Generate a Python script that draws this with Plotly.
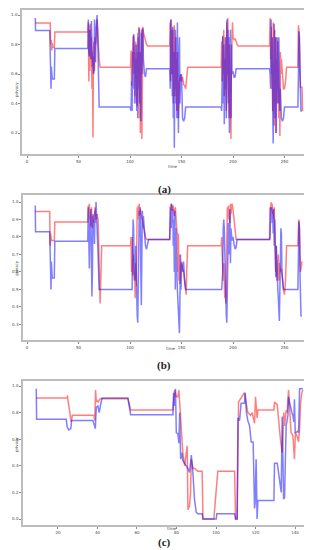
import plotly.graph_objects as go

# ---- data: (time, privacy) pairs ----
a_red = [(8,0.946),(22.5,0.946),(23,0.80),(23.5,0.83),(24,0.76),(24.5,0.81),(25,0.78),(26.5,0.78),(27,0.885),(59,0.885),(59.5,0.95),(60,0.55),(60.5,0.93),(61,0.62),(61.5,0.94),(62,0.72),(62.5,0.85),(63,0.5),(63.5,0.75),(64,0.17),(64.5,0.75),(65,0.82),(65.5,0.62),(66,0.85),(66.5,0.8),(67,0.82),(67.5,0.9),(68,0.97),(68.5,0.9),(69,0.8),(70,0.7),(71,0.646),
(100.5,0.646),(101,0.76),(101.5,0.52),(102,0.62),(103,0.86),(103.5,0.8),(104,0.6),(104.5,0.75),(105,0.45),(105.5,0.82),(106,0.4),(106.5,0.7),(107,0.38),(107.5,0.88),(108,0.55),(108.5,0.92),(109,0.3),(109.5,0.75),(110,0.2),(110.5,0.6),(111,0.9),(111.5,0.16),(112,0.7),(112.5,0.92),(113,0.88),(114,0.85),(115,0.82),(116,0.8),(117,0.79),
(138.5,0.79),(139,0.95),(139.5,0.55),(140,0.97),(140.5,0.85),(141,0.6),(141.5,0.9),(142,0.4),(142.5,0.8),(143,0.93),(143.5,0.45),(144,0.85),(144.5,0.5),(145,0.7),(145.5,0.35),(146,0.75),(146.5,0.5),(147,0.3),(148,0.55),(149,0.6),(150,0.55),(151,0.58),(152,0.53),(153,0.52),(154,0.5),(155,0.6),(156,0.646),
(188.5,0.646),(189,0.82),(189.5,0.55),(190,0.85),(190.5,0.6),(191,0.9),(191.5,0.45),(192,0.85),(192.5,0.5),(193,0.7),(193.5,0.35),(194,0.95),(194.5,0.6),(195,0.98),(195.5,0.5),(196,0.3),(196.5,0.8),(197,0.45),(197.5,0.2),(198,0.16),(198.5,0.7),(199,0.92),(199.5,0.95),(200,0.85),(201,0.83),(202,0.84),(203,0.81),(204,0.8),(205,0.79),
(235.5,0.79),(236,0.98),(236.5,0.7),(237,0.92),(237.5,0.5),(238,0.85),(238.5,0.35),(239,0.95),(239.5,0.6),(240,0.25),(240.5,0.9),(241,0.4),(241.5,0.2),(242,0.85),(242.5,0.55),(243,0.4),(243.5,0.82),(244,0.6),(244.5,0.3),(245,0.5),(245.5,0.18),(246,0.75),(246.5,0.6),(247,0.7),(248,0.55),(249,0.5),(250,0.5),(251,0.55),(252,0.646),
(263,0.646),(263.5,0.93),(264,0.9),(264.5,0.8),(265,0.6),(265.5,0.51),(267,0.51),(267.5,0.35)]

a_blue = [(8,0.98),(8.3,0.895),(22,0.895),(23,0.6),(23.3,0.5),(23.6,0.65),(24,0.6),(24.5,0.567),(26.5,0.567),(27,0.773),(59,0.773),(59.5,0.97),(60,0.75),(60.5,0.72),(61,0.9),(61.5,0.75),(62,0.7),(62.5,0.96),(63,0.8),(63.5,0.65),(64,0.72),(64.5,0.6),(65,0.62),(65.5,0.97),(66,0.7),(66.5,0.68),(67,0.9),(67.5,0.99),(68,1.0),(68.5,0.9),(69,0.7),(70,0.376),
(100,0.376),(100.5,0.35),(101,0.35),(101.5,0.55),(102,0.35),(102.5,0.75),(103,0.5),(103.5,0.87),(104,0.85),(104.5,0.4),(105,0.7),(105.5,0.55),(106,0.8),(106.5,0.35),(107,0.75),(107.5,0.3),(108,0.85),(108.5,0.5),(109,0.91),(109.5,0.4),(110,0.75),(110.5,0.28),(111,0.88),(111.5,0.6),(112,0.91),(112.5,0.9),(113,0.7),(113.5,0.6),(114,0.6),(115,0.58),(115.5,0.6),(116,0.636),
(138.5,0.636),(139,0.5),(139.5,0.97),(140,0.6),(140.5,0.9),(141,0.45),(141.5,0.92),(142,0.3),(142.5,0.75),(143,0.1),(143.5,0.6),(144,0.9),(144.5,0.4),(145,0.85),(145.5,0.3),(146,0.95),(146.5,0.5),(147,0.2),(147.5,0.7),(148,0.85),(148.5,0.4),(149,0.55),(150,0.6),(150.5,0.35),(151,0.3),(152,0.28),(153,0.3),(154,0.376),
(188.5,0.376),(189,0.35),(189.5,0.6),(190,0.86),(190.5,0.4),(191,0.8),(191.5,0.26),(192,0.7),(192.5,0.5),(193,0.85),(193.5,0.3),(194,0.97),(194.5,0.6),(195,0.9),(195.5,0.4),(196,0.85),(196.5,0.2),(197,0.6),(197.5,0.9),(198,0.3),(198.5,0.8),(199,0.6),(200,0.62),(200.5,0.6),(201,0.578),(202,0.58),(203,0.636),
(235.5,0.636),(236,0.6),(236.5,0.5),(237,0.97),(237.5,0.6),(238,0.85),(238.5,0.4),(239,0.13),(239.5,0.5),(240,0.94),(240.5,0.6),(241,0.3),(241.5,0.85),(242,0.2),(242.5,0.7),(243,0.5),(243.5,0.85),(244,0.4),(244.5,0.85),(245,0.6),(245.5,0.35),(246,0.5),(247,0.3),(248,0.28),(249,0.3),(250,0.376),
(263,0.376),(263.5,0.6),(264,0.89),(264.5,0.85),(265,0.6),(265.5,0.45),(266,0.35),(267,0.35)]

b_red = [(8,0.945),(22,0.945),(22.5,0.75),(23,0.82),(23.5,0.79),(24,0.78),(26.5,0.78),(27,0.886),(59,0.886),(59.5,0.98),(60,0.96),(60.5,0.99),(61,0.9),(61.5,0.92),(62,0.86),(62.5,0.97),(63,0.9),(63.5,0.85),(64,0.92),(64.5,0.88),(65,0.92),(65.5,0.93),(66,0.97),(66.5,0.95),(67,0.9),(68,0.93),(69,0.9),(71,0.42),(72.5,0.75),
(100.5,0.75),(101,0.8),(101.5,0.6),(102,0.8),(102.5,0.58),(103,0.7),(104,0.55),(104.5,0.6),(105,0.45),(105.5,0.65),(106,0.52),(106.5,0.9),(107,0.97),(107.5,0.9),(108,0.98),(108.5,0.92),(109,0.99),(109.5,0.93),(110,0.96),(111,0.92),(112,0.9),(113,0.86),(114,0.82),(115,0.8),(116,0.785),
(138.5,0.785),(139,0.97),(140,0.99),(141,0.95),(142,0.98),(143,0.92),(144,0.97),(145,0.88),(146,0.8),(146.5,0.6),(147,0.82),(147.5,0.55),(148,0.7),(148.5,0.53),(149,0.6),(150,0.66),(151,0.62),(152,0.6),(153,0.55),(154,0.5),(154.5,0.47),(155,0.6),(156,0.75),
(188.5,0.75),(189,0.8),(189.5,0.7),(190,0.6),(190.5,0.55),(191,0.65),(191.5,0.5),(192,0.45),(192.5,0.55),(193,0.42),(193.5,0.6),(194,0.9),(194.5,0.97),(195,0.92),(195.5,0.98),(196,0.9),(196.5,0.95),(197,0.88),(197.5,0.99),(198,0.93),(199,0.99),(200,0.96),(201,0.9),(202,0.82),(203,0.785),
(235.5,0.785),(236,0.97),(236.5,0.95),(237,1.0),(237.5,0.97),(238,0.99),(238.5,0.93),(239,0.96),(239.5,0.9),(240,0.97),(240.5,0.85),(241,0.8),(241.5,0.6),(242,0.75),(242.5,0.55),(243,0.65),(243.5,0.58),(244,0.7),(244.5,0.55),(245,0.65),(246,0.6),(247,0.62),(248,0.55),(249,0.5),(250,0.47),(251,0.55),(252,0.75),
(263,0.75),(263.5,0.85),(264,0.9),(264.5,0.85),(265,0.7),(265.5,0.6),(266,0.62),(267,0.66)]

b_blue = [(8,0.98),(8.3,0.83),(22,0.83),(23,0.6),(23.3,0.5),(23.6,0.66),(24,0.58),(24.5,0.565),(26.5,0.565),(27,0.775),(59,0.775),(59.5,0.97),(60,0.8),(60.5,0.62),(61,0.85),(61.5,0.9),(62,0.96),(62.5,0.7),(63,0.46),(63.5,0.6),(64,0.93),(64.5,0.85),(65,0.9),(65.5,0.76),(66,0.95),(66.5,0.88),(67,1.0),(67.5,0.95),(68,0.85),(69,0.7),(70,0.5),
(101,0.5),(102,0.5),(103,0.9),(103.5,0.85),(104,0.6),(105,0.55),(105.5,0.75),(106,0.5),(106.5,0.45),(107,0.35),(107.5,0.31),(108,0.5),(108.5,0.88),(109,0.95),(109.5,0.8),(110,0.97),(110.5,0.6),(111,0.41),(111.5,0.7),(112,0.95),(112.5,0.85),(113,0.92),(114,0.8),(115,0.75),(116,0.73),(117,0.76),(118,0.785),
(138.5,0.785),(139,0.95),(139.5,0.97),(140,0.85),(140.5,0.99),(141,0.88),(141.5,0.96),(142,0.75),(142.5,0.9),(143,0.6),(143.5,0.95),(144,0.5),(144.5,0.85),(145,0.7),(146,0.5),(147,0.35),(148,0.25),(148.5,0.45),(149,0.7),(149.5,0.5),(150,0.65),(151,0.6),(152,0.66),(153,0.55),(154,0.5),
(189,0.5),(190,0.6),(190.5,0.85),(191,0.9),(191.5,0.85),(192,0.7),(192.5,0.5),(193,0.4),(193.5,0.35),(194,0.31),(194.5,0.45),(195,0.75),(195.5,0.88),(196,0.7),(196.5,0.9),(197,0.96),(197.5,0.65),(198,0.85),(199,0.78),(200,0.8),(201,0.76),(202,0.73),(203,0.74),(204,0.785),
(235.5,0.785),(236,0.8),(236.5,0.97),(237,0.92),(237.5,0.97),(238,0.88),(238.5,0.95),(239,0.82),(239.5,0.96),(240,0.75),(240.5,0.9),(241,0.7),(241.5,0.57),(242,0.75),(242.5,0.6),(243,0.65),(243.5,0.5),(244,0.45),(244.5,0.35),(245,0.32),(245.5,0.5),(246,0.7),(246.5,0.85),(247,0.82),(247.5,0.6),(248,0.55),(249,0.5),
(263,0.5),(263.5,0.7),(264,0.89),(264.5,0.85),(265,0.6),(265.5,0.4),(266,0.35),(267,0.35)]

c_red = [(9,0.91),(24.7,0.91),(24.8,0.93),(25,0.9),(26.7,0.73),(27.3,0.78),(38.2,0.78),(38.6,0.74),(39.05,0.97),(39.4,0.88),(39.8,0.89),(40.5,0.88),(41,0.9),(41.6,0.905),(55.4,0.905),(56.8,0.82),(78.2,0.82),(79.0,0.97),(79.9,0.92),(80.7,0.92),(81.2,0.97),(82.4,0.7),(83.2,0.5),(84.1,0.4),(85.4,0.55),(85.8,0.07),(86.6,0.1),(87.1,0.2),(87.5,0.45),(88.3,0.38),(89.1,0.38),(90.8,0.36),(93,0.36),(93.4,0.0),(98.9,0.0),(100.9,0.36),(109.4,0.36),(109.9,0.0),(110.7,0.0),(111.4,0.88),(113.6,0.93),(114.4,0.95),(115.3,0.87),(116.1,0.8),(117.5,0.78),(118.3,0.8),(119.5,0.72),(120,0.92),(120.8,0.76),(121.2,0.82),(129.3,0.82),(129.6,0.88),(131,0.86),(131.6,0.75),(132.6,0.6),(133.5,0.5),(134.3,0.8),(134.7,0.7),(135.5,0.82),(136,0.8),(136.7,0.97),(137.2,0.85),(138,0.65),(138.9,0.63),(139.7,0.45),(140.2,0.65),(141.1,0.62),(141.8,0.58),(142.3,0.68),(142.8,0.87),(143.4,0.95),(144,0.97)]

c_blue = [(9,0.98),(9.2,0.75),(24.2,0.75),(24.7,0.69),(25.5,0.67),(26.5,0.68),(26.9,0.74),(37.7,0.74),(38.9,0.68),(39.4,0.84),(40.2,0.85),(40.9,0.8),(41.6,0.86),(42.3,0.91),(55.4,0.91),(56.8,0.785),(78.2,0.785),(78.5,0.95),(79.0,0.85),(79.5,0.98),(79.9,0.65),(80.7,0.64),(81.2,0.57),(81.6,0.8),(82.1,0.45),(82.7,0.5),(83.2,0.44),(84.1,0.42),(85.8,0.38),(86.6,0.35),(87.5,0.48),(88.3,0.35),(89.1,0.15),(90.0,0.05),(90.8,0.04),(93,0.04),(93.4,0.0),(100.1,0.0),(100.4,0.04),(109.4,0.04),(109.9,0.0),(110.7,0.0),(111.1,0.76),(111.9,0.74),(112.7,0.87),(114.4,0.87),(114.8,0.95),(115.4,0.8),(116.1,0.74),(117,0.7),(117.8,0.58),(118.8,0.58),(119.5,0.08),(119.8,0.12),(120.3,0.45),(120.8,0.0),(121.2,0.14),(129.3,0.14),(129.6,0.42),(131,0.42),(132.1,0.3),(133,0.2),(133.5,0.77),(134.2,0.15),(134.7,0.16),(135.5,0.7),(136.4,0.78),(136.7,0.92),(137.2,0.88),(137.7,0.84),(138.4,0.8),(138.9,0.78),(139.4,0.73),(139.7,0.9),(140.1,0.65),(141.4,0.66),(141.8,0.65),(142.3,0.98),(144,0.98)]

ab_xticks = [0, 50, 100, 150, 200, 250]
c_xticks = [20, 40, 60, 80, 100, 120, 140]
a_yticks = [0.2, 0.4, 0.6, 0.8, 1.0]
b_yticks = [0.3, 0.4, 0.5, 0.6, 0.7, 0.8, 0.9, 1.0]
c_yticks = [0.0, 0.2, 0.4, 0.6, 0.8, 1.0]
captions = ["(a)", "(b)", "(c)"]

W, H = 312, 550
RED = "rgba(255,0,0,0.5)"
BLUE = "rgba(0,0,255,0.5)"

fig = go.Figure()
panels = [
    (a_red, a_blue, "x", "y"),
    (b_red, b_blue, "x2", "y2"),
    (c_red, c_blue, "x3", "y3"),
]
for red, blue, xa, ya in panels:
    for ser, col in ((red, RED), (blue, BLUE)):
        fig.add_trace(go.Scatter(x=[p[0] for p in ser], y=[p[1] for p in ser],
                                 mode="lines", line=dict(color=col, width=1.5),
                                 xaxis=xa, yaxis=ya, showlegend=False, hoverinfo="skip"))

def px_x(px):
    return px / W

def px_y(px):
    return 1 - px / H

tickfont = dict(size=4, color="#444", family="DejaVu Sans")
common = dict(showgrid=False, zeroline=False, showline=True, mirror=True,
              linecolor="#bdbdbd", linewidth=1.5, ticks="outside", ticklen=2,
              tickcolor="#888", tickwidth=0.6, tickfont=tickfont)

# (left, right, top, bottom) pixel boxes of the three axes
boxes = [(14, 307, 2, 146), (15, 307, 187, 332), (15, 306, 373, 517)]
xranges = [[-4.9, 279.6], [-3.9, 279.6], [2.3, 149.6]]
yranges = [[0.058, 1.034], [0.211, 1.04], [-0.045, 1.038]]
xt = [ab_xticks, ab_xticks, c_xticks]
yt = [a_yticks, b_yticks, c_yticks]

layout = dict(width=W, height=H, margin=dict(l=0, r=0, t=0, b=0),
              paper_bgcolor="white", plot_bgcolor="white", showlegend=False)
for i in range(3):
    l, r, t, b = boxes[i]
    sx = "xaxis" if i == 0 else f"xaxis{i+1}"
    sy = "yaxis" if i == 0 else f"yaxis{i+1}"
    anchor_y = "y" if i == 0 else f"y{i+1}"
    anchor_x = "x" if i == 0 else f"x{i+1}"
    layout[sx] = dict(common, domain=[px_x(l), px_x(r)], range=xranges[i],
                      tickvals=xt[i], ticktext=[str(v) for v in xt[i]], anchor=anchor_y)
    layout[sy] = dict(common, domain=[px_y(b), px_y(t)], range=yranges[i],
                      tickvals=yt[i], ticktext=[f"{v:.1f}" for v in yt[i]], anchor=anchor_x)
fig.update_layout(**layout)

ann = []
time_pos = [(165, 154), (163, 340), (164, 525)]
priv_pos = [(4, 72), (4, 260), (4, 446)]
cap_pos = [(156, 173), (156, 357), (156, 543)]
for i in range(3):
    ann.append(dict(text="time", x=px_x(time_pos[i][0]), y=px_y(time_pos[i][1]),
                    xref="paper", yref="paper", showarrow=False,
                    font=dict(size=4, color="#444", family="DejaVu Sans")))
    ann.append(dict(text="privacy", x=px_x(priv_pos[i][0]), y=px_y(priv_pos[i][1]),
                    xref="paper", yref="paper", showarrow=False, textangle=-90,
                    font=dict(size=4, color="#444", family="DejaVu Sans")))
    ann.append(dict(text=f"<b>{captions[i]}</b>", x=px_x(cap_pos[i][0]), y=px_y(cap_pos[i][1]),
                    xref="paper", yref="paper", showarrow=False,
                    font=dict(size=11, color="#222", family="Liberation Serif")))
fig.update_layout(annotations=ann)

fig.write_html("out.html")
